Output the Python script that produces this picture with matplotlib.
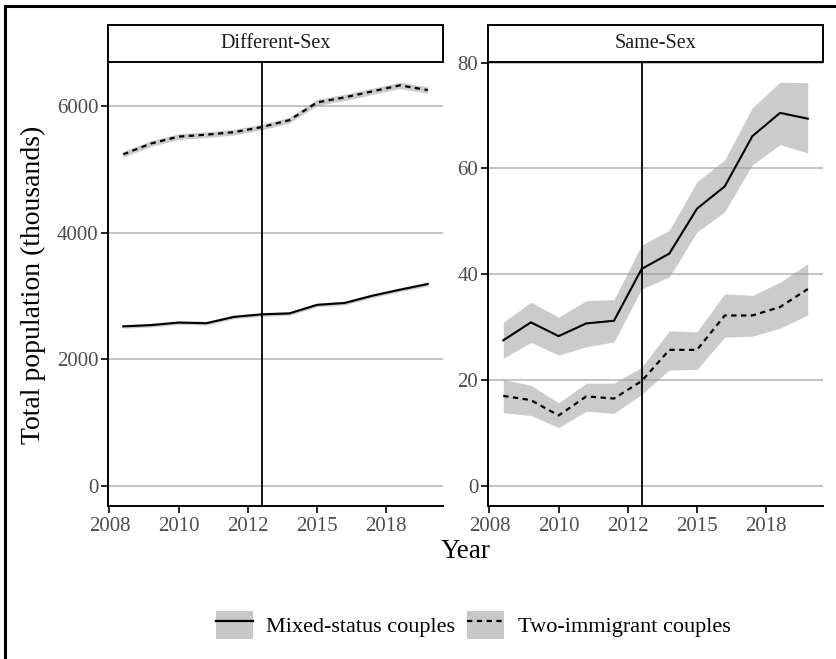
import matplotlib
matplotlib.use("Agg")
import matplotlib.pyplot as plt
from matplotlib.patches import Rectangle, Patch
from matplotlib.lines import Line2D
from matplotlib.legend_handler import HandlerTuple

plt.rcParams['font.family'] = ['Liberation Serif', 'DejaVu Serif']

# survey years (plotted at mid-year)
years = list(range(2008, 2020))

# Different-sex couples, thousands
diff_mixed = [2520, 2540, 2580, 2570, 2670, 2710, 2725, 2860, 2890, 3005, 3100, 3190]
diff_mixed_lo = [2490, 2510, 2550, 2540, 2640, 2680, 2695, 2830, 2860, 2975, 3070, 3155]
diff_mixed_hi = [2550, 2570, 2610, 2600, 2700, 2740, 2755, 2890, 2920, 3035, 3130, 3225]
diff_two = [5240, 5410, 5520, 5550, 5590, 5670, 5780, 6060, 6140, 6235, 6330, 6255]
diff_two_lo = [5195, 5365, 5475, 5505, 5545, 5625, 5735, 6010, 6090, 6185, 6280, 6205]
diff_two_hi = [5285, 5455, 5565, 5595, 5635, 5715, 5825, 6110, 6190, 6285, 6380, 6305]

# Same-sex couples, thousands
same_mixed = [27.5, 30.9, 28.3, 30.7, 31.2, 41.0, 43.9, 52.4, 56.6, 66.1, 70.5, 69.4]
same_mixed_lo = [24.1, 27.1, 24.7, 26.3, 27.2, 37.2, 39.5, 48.0, 51.8, 60.7, 64.5, 62.9]
same_mixed_hi = [30.9, 34.7, 31.9, 35.0, 35.2, 45.5, 48.3, 57.5, 61.6, 71.5, 76.3, 76.2]
same_two = [17.0, 16.2, 13.3, 16.9, 16.5, 19.8, 25.7, 25.7, 32.2, 32.2, 33.8, 37.2]
same_two_lo = [13.8, 13.3, 11.0, 14.1, 13.7, 17.3, 21.9, 22.0, 28.1, 28.3, 29.8, 32.3]
same_two_hi = [20.1, 19.0, 15.7, 19.4, 19.4, 22.4, 29.3, 29.1, 36.3, 36.0, 38.5, 42.0]

x_ticks = [2008, 2010.5, 2013, 2015.5, 2018]
x_labels = ['2008', '2010', '2012', '2015', '2018']
policy_x = 2013.5

panels = [
    ("Different-Sex", diff_mixed, diff_mixed_lo, diff_mixed_hi,
     diff_two, diff_two_lo, diff_two_hi, [0, 2000, 4000, 6000]),
    ("Same-Sex", same_mixed, same_mixed_lo, same_mixed_hi,
     same_two, same_two_lo, same_two_hi, [0, 20, 40, 60, 80]),
]

W, H = 836, 659
fig = plt.figure(figsize=(W / 100, H / 100), dpi=100)

band = '#999999'
dash = (0, (2.4, 2.0))
x = [y + 0.5 for y in years]

lefts = [108, 488]
for left, (title, m, m_lo, m_hi, t, t_lo, t_hi, yt) in zip(lefts, panels):
    ax = fig.add_axes([left / W, 1 - 506 / H, 335 / W, 444 / H])
    ax.fill_between(x, m_lo, m_hi, color=band, alpha=0.5, lw=0, zorder=2)
    ax.fill_between(x, t_lo, t_hi, color=band, alpha=0.5, lw=0, zorder=2)
    ax.plot(x, m, color='black', lw=1.5, zorder=3)
    ax.plot(x, t, color='black', lw=1.6, linestyle=dash, zorder=3)
    ax.axvline(policy_x, color='black', lw=1.3, zorder=4)

    hi = max(max(m_hi), max(t_hi))
    pad = 0.05 * hi
    ax.set_ylim(-pad, hi + pad)
    span = x[-1] - x[0]
    ax.set_xlim(x[0] - 0.05 * span, x[-1] + 0.05 * span)

    ax.set_yticks(yt)
    ax.set_xticks(x_ticks)
    ax.set_xticklabels(x_labels)
    ax.yaxis.grid(True, color='#b3b3b3', lw=1.1, zorder=1)
    ax.set_axisbelow(True)
    for s in ['top', 'right']:
        ax.spines[s].set_visible(False)
    for s in ['left', 'bottom']:
        ax.spines[s].set_linewidth(1.4)
    ax.tick_params(axis='both', length=5, width=1.2, color='black',
                   labelsize=15, labelcolor='#4d4d4d')
    ax.tick_params(axis='y', pad=2)
    ax.tick_params(axis='x', pad=3)

    # facet strip
    sh = 37 / 444
    ax.add_patch(Rectangle((0, 1), 1, sh, transform=ax.transAxes,
                           facecolor='white', edgecolor='black', lw=1.4,
                           clip_on=False))
    ax.text(0.5, 1 + sh / 2, title, transform=ax.transAxes, ha='center',
            va='center', fontsize=14.5, color='#1a1a1a')

fig.text(33 / W, 1 - 285 / H, 'Total population (thousands)', rotation=90,
         ha='center', va='center', fontsize=20)
fig.text(466 / W, 1 - 552 / H, 'Year', ha='center', va='center', fontsize=19.5)

handles = [
    (Patch(facecolor='#c8c8c8', edgecolor='none'), Line2D([], [], color='black', lw=1.6)),
    (Patch(facecolor='#c8c8c8', edgecolor='none'), Line2D([], [], color='black', lw=1.6, linestyle=dash)),
]
fig.legend(handles, ['Mixed-status couples', 'Two-immigrant couples'],
           handler_map={tuple: HandlerTuple(ndivide=1)},
           loc='center', bbox_to_anchor=(473 / W, 1 - 625 / H), ncol=2,
           frameon=False, fontsize=16, handlelength=1.67, handleheight=1.62,
           handletextpad=0.6, columnspacing=0.55, borderpad=0)

# outer frame
fig.add_artist(Rectangle((5 / W, -0.1), 1.2, 1.1 - 6 / H, transform=fig.transFigure,
                         fill=False, edgecolor='black', lw=2.2))

fig.savefig('out.png', dpi=100)
